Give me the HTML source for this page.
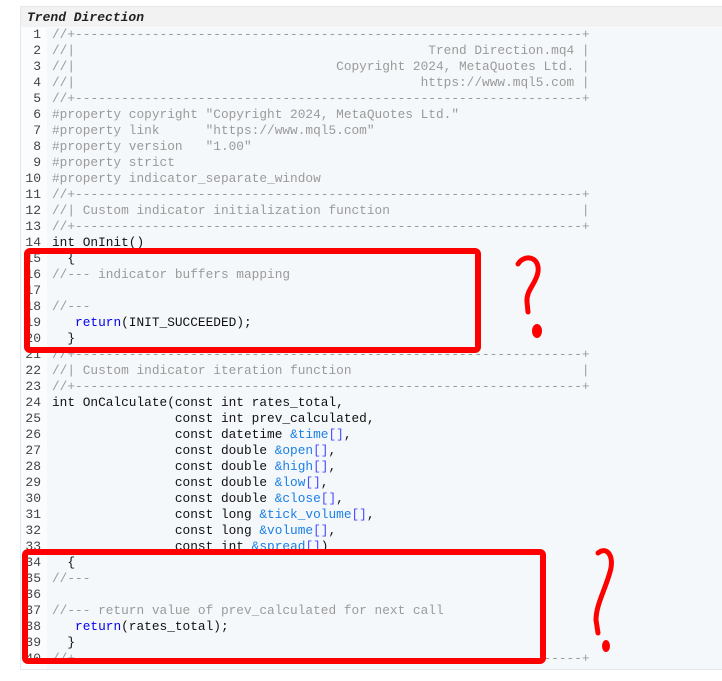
<!DOCTYPE html>
<html><head><meta charset="utf-8"><style>
body{margin:0;width:722px;height:681px;background:#fff;position:relative;overflow:hidden;font-family:"Liberation Mono",monospace;}
#panel{position:absolute;left:20px;top:6px;width:702px;height:662px;border:1px solid #e4e8ec;border-right:none;background:#fbfcfd;}
#hdr{position:absolute;left:0;top:0;width:702px;height:20px;background:#f2f2f2;font-style:italic;font-weight:bold;font-size:13px;line-height:21px;padding-left:6px;box-sizing:border-box;color:#222;font-family:"Liberation Mono",monospace;}
#code{position:absolute;left:26px;top:21px;width:676px;height:641px;background:#f5f8fb;}
.l{position:absolute;left:0;height:16px;line-height:16px;font-size:12.8px;white-space:pre;color:#111;}
.n{position:absolute;width:19px;text-align:right;left:0;height:16px;line-height:16px;font-size:13px;color:#444;}
.c{color:#9a9a9a}.k{color:#0000ee}.p{color:#1a7fe6}.b{color:#4a4aff}
</style></head><body>
<div id="panel"><div id="hdr">Trend Direction</div><div id="code"></div></div>
<div id="lines"></div>
<script>
const D='//+'+'-'.repeat(66)+'+';
function R(t){return '//|'+(t+' |').padStart(67,' ');}
function Lf(t){return ('//| '+t).padEnd(69,' ')+'|';}
const C=s=>'<span class="c">'+s+'</span>';
const L=[
C(D),C(R('Trend Direction.mq4')),C(R('Copyright 2024, MetaQuotes Ltd.')),C(R('https://www.mql5.com')),C(D),
C('#property copyright "Copyright 2024, MetaQuotes Ltd."'),
C('#property link      "https://www.mql5.com"'),
C('#property version   "1.00"'),
C('#property strict'),
C('#property indicator_separate_window'),
C(D),C(Lf('Custom indicator initialization function')),C(D),
'int OnInit()',
'  {',
C('//--- indicator buffers mapping'),
'',
C('//---'),
'   <span class="k">return</span>(INIT_SUCCEEDED);',
'  }',
C(D),C(Lf('Custom indicator iteration function')),C(D),
'int OnCalculate(const int rates_total,',
'                const int prev_calculated,',
'                const datetime <span class="p">&amp;time</span><span class="b">[]</span>,',
'                const double <span class="p">&amp;open</span><span class="b">[]</span>,',
'                const double <span class="p">&amp;high</span><span class="b">[]</span>,',
'                const double <span class="p">&amp;low</span><span class="b">[]</span>,',
'                const double <span class="p">&amp;close</span><span class="b">[]</span>,',
'                const long <span class="p">&amp;tick_volume</span><span class="b">[]</span>,',
'                const long <span class="p">&amp;volume</span><span class="b">[]</span>,',
'                const int <span class="p">&amp;spread</span><span class="b">[]</span>)',
'  {',
C('//---'),
'',
C('//--- return value of prev_calculated for next call'),
'   <span class="k">return</span>(rates_total);',
'  }',
C(D)];
let h='';
L.forEach((s,i)=>{const y=27+i*16;
h+=`<div class="n" style="top:${y}px;left:22px">${i+1}</div><div class="l" style="top:${y}px;left:52px">${s}</div>`;});
document.getElementById('lines').innerHTML=h;
</script>
<svg width="722" height="681" style="position:absolute;left:0;top:0">
<g fill="none" stroke="#ff0000" stroke-width="6" stroke-linejoin="round" stroke-linecap="round">
<rect x="27" y="251" width="451" height="99" rx="3" fill="none"/>
<rect x="25" y="552" width="518" height="109" rx="3" fill="none"/>
<path d="M518 264 C524 254 540 256 538 272 C536 284 526 290 527 302 L528 312" stroke-width="5"/>
<path d="M598 553 C606 546 615 555 610 572 C605 590 596 605 596 620 L598 633" stroke-width="5"/>
</g>
<ellipse cx="537" cy="331" rx="5" ry="7" fill="#ff0000"/>
<ellipse cx="606" cy="646" rx="4" ry="6" fill="#ff0000"/>
</svg>
</body></html>
